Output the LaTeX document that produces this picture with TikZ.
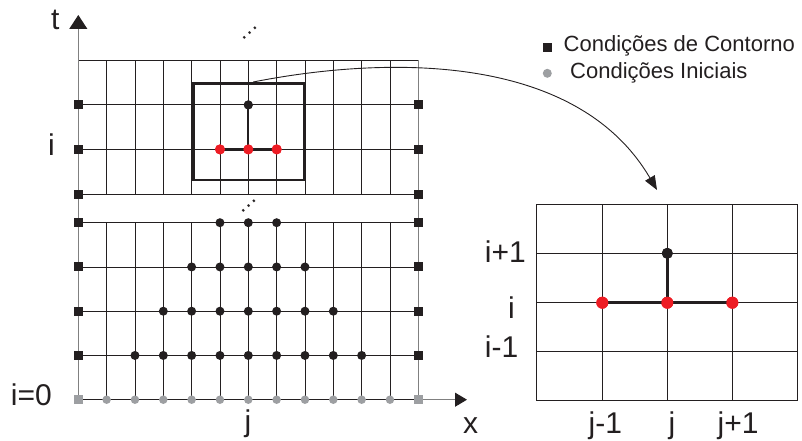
\documentclass[tikz,border=0pt]{standalone}
\usepackage{fontspec}
\setmainfont{Liberation Sans}
\usetikzlibrary{arrows.meta}
\definecolor{dk}{HTML}{231F20}
\definecolor{rd}{HTML}{ED1C24}
\definecolor{gr}{HTML}{9D9FA2}
\definecolor{ax}{HTML}{808080}
\begin{document}
\begin{tikzpicture}[x=1pt,y=-1pt,
  sq/.style={rectangle, fill=dk, minimum size=9pt, inner sep=0pt},
  gsq/.style={sq, fill=gr},
  bdot/.style={circle, fill=dk, minimum size=9pt, inner sep=0pt},
  rdot/.style={circle, fill=rd, minimum size=10pt, inner sep=0pt},
  gdot/.style={circle, fill=gr, minimum size=8.5pt, inner sep=0pt},
  bdotb/.style={circle, fill=dk, minimum size=11pt, inner sep=0pt},
  rdotb/.style={circle, fill=rd, minimum size=12pt, inner sep=0pt},
  gridline/.style={line width=0.9pt, draw=dk},
  axisline/.style={line width=1pt, draw=ax},
  stencil/.style={line width=2.2pt, draw=dk},
  stencilb/.style={line width=3pt, draw=dk},
  big/.style={font=\fontsize{30}{36}\selectfont, inner sep=0pt, text=dk},
  leg/.style={font=\fontsize{22}{26}\selectfont, inner sep=0pt, text=dk},
  ell/.style={font=\fontsize{22.5}{26}\selectfont, inner sep=0pt, text=dk, rotate=42, anchor=base},
]
\useasboundingbox (0,0) rectangle (802,441);

% ---------- left grid ----------
\foreach \k in {1,...,11} {
  \draw[gridline] ({78.3+28.333*\k},60.3) -- ({78.3+28.333*\k},194);
  \draw[gridline] ({78.3+28.333*\k},222.7) -- ({78.3+28.333*\k},399.7);
}
\foreach \y in {60.3,104.9,149.4,194}
  \draw[gridline] (78.3,\y) -- (418.3,\y);
\foreach \y in {222.7,266.95,311.2,355.45,399.7}
  \draw[gridline] (78.3,\y) -- (418.3,\y);

% axes and right edge
\coordinate (origin) at (78.3,399.7);
\coordinate (ttip) at (78.3,15);
\coordinate (xstart) at (418.3,399.7);
\coordinate (xtip) at (467,399.7);
\coordinate (redgetop) at (418.3,60.3);
\draw[axisline, -{Triangle[length=14pt,width=18pt,color=dk]}] (origin) -- (ttip);
\draw[axisline, -{Triangle[length=12pt,width=14pt,color=dk]}] (xstart) -- (xtip);
\draw[axisline] (redgetop) -- (xstart);

% boundary squares
\foreach \y [count=\n] in {104.9,149.4,194,222.7,266.95,311.2,355.45} {
  \node[sq] (bl\n) at (78.3,\y) {};
  \node[sq] (br\n) at (418.3,\y) {};
}
\node[gsq] (gl) at (78.3,399.7) {};
\node[gsq] (gr) at (418.3,399.7) {};

% initial condition dots
\foreach \k in {1,...,11}
  \node[gdot] (g\k) at ({78.3+28.333*\k},399.7) {};

% computed dots (bottom grid)
\foreach \k in {5,...,7} \node[bdot] (ra\k) at ({78.3+28.333*\k},222.7) {};
\foreach \k in {4,...,8} \node[bdot] (rb\k) at ({78.3+28.333*\k},266.95) {};
\foreach \k in {3,...,9} \node[bdot] (rc\k) at ({78.3+28.333*\k},311.2) {};
\foreach \k in {2,...,10} \node[bdot] (rd\k) at ({78.3+28.333*\k},355.45) {};

% stencil in top grid
\node[rdot] (tr5) at (220,149.4) {};
\node[rdot] (tr6) at (248.3,149.4) {};
\node[rdot] (tr7) at (276.7,149.4) {};
\node[bdot] (tb6) at (248.3,104.9) {};
\draw[stencil] (tb6.center) -- (tr6.center);
\draw[stencil] (tr5.center) -- (tr7.center);
\node[rdot] at (tr5) {};
\node[rdot] at (tr6) {};
\node[rdot] at (tr7) {};
\node[bdot] at (tb6) {};

% zoom box
\node[draw=dk, line width=2.6pt, minimum width=110.7pt, minimum height=96.7pt, inner sep=0pt] (zoombox) at (248.65,131.65) {};

% ellipses
\node[ell] (dots1) at (250.7,33.5) {…};
\node[ell] (dots2) at (250.3,207) {…};

% labels left
\node[big, anchor=base west] (lt) at (51,30) {t};
\node[big, anchor=base west] (li) at (48,155) {i};
\node[big, anchor=base west] (li0) at (10.7,405) {i=0};
\node[big, anchor=base] (lj) at (248,431.5) {j};
\node[big, anchor=base west] (lx) at (463,433) {x};

% legend
\node[sq] (legsq) at (547,47.5) {};
\node[leg, anchor=base west] (legt1) at (563.5,52) {Condições de Contorno};
\node[circle, fill=gr, minimum size=9pt, inner sep=0pt] (legci) at (547.3,73.3) {};
\node[leg, anchor=base west] (legt2) at (570,79) {Condições Iniciais};

% ---------- right grid ----------
\foreach \x in {602.3,667.3,732.3}
  \draw[gridline] (\x,204) -- (\x,400);
\foreach \y in {253.3,302.7,351.7}
  \draw[gridline] (536.7,\y) -- (797.3,\y);
\draw[gridline] (536.7,204) rectangle (797.3,400);

\node[rdotb] (zr1) at (602.3,302.7) {};
\node[rdotb] (zr2) at (667.3,302.7) {};
\node[rdotb] (zr3) at (732.3,302.7) {};
\node[bdotb] (zb) at (667.3,253.3) {};
\draw[stencilb] (zb.center) -- (zr2.center);
\draw[stencilb] (zr1.center) -- (zr3.center);
\node[rdotb] at (zr1) {};
\node[rdotb] at (zr2) {};
\node[rdotb] at (zr3) {};
\node[bdotb] at (zb) {};

\node[big, anchor=base west] (rip) at (484.7,262) {i+1};
\node[big, anchor=base west] (ri) at (508,318) {i};
\node[big, anchor=base west] (rim) at (484.7,357) {i-1};
\node[big, anchor=base west] (rjm) at (588.5,433) {j-1};
\node[big, anchor=base west] (rj) at (668.5,433) {j};
\node[big, anchor=base west] (rjp) at (717.5,433) {j+1};

% connector
\coordinate (ztip) at (657,190);
\draw[line width=0.9pt, dk, -{Triangle[length=14pt,width=11pt]}]
  ([xshift=4.5pt]zoombox.north) .. controls (380,57) and (575,50) .. (ztip);
\end{tikzpicture}
\end{document}
